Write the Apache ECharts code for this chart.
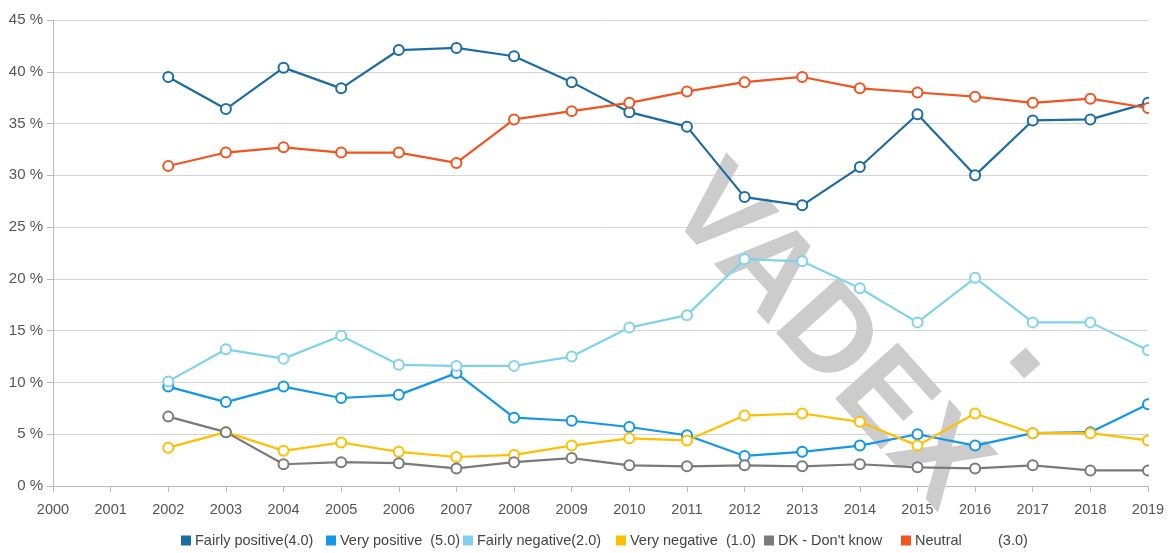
<!DOCTYPE html>
<html>
<head>
<meta charset="utf-8">
<script src="https://cdn.jsdelivr.net/npm/echarts@6/dist/echarts.min.js"></script>
<style>
html,body{margin:0;padding:0;background:#fff;}
#c{width:1172px;height:553px;}
</style>
</head>
<body>
<div id="c"></div>
<script>
var years = ['2000','2001','2002','2003','2004','2005','2006','2007','2008','2009','2010','2011','2012','2013','2014','2015','2016','2017','2018','2019'];
var yTicks = [0,5,10,15,20,25,30,35,40,45];

var fairlyPositive = [null,null,39.5,36.4,40.4,38.4,42.1,42.3,41.5,39.0,36.1,34.7,27.9,27.1,30.8,35.9,30.0,35.3,35.4,37.0];
var veryPositive   = [null,null,9.6,8.1,9.6,8.5,8.8,10.9,6.6,6.3,5.7,4.9,2.9,3.3,3.9,5.0,3.9,5.1,5.2,7.9];
var fairlyNegative = [null,null,10.1,13.2,12.3,14.5,11.7,11.6,11.6,12.5,15.3,16.5,21.9,21.7,19.1,15.8,20.1,15.8,15.8,13.1];
var veryNegative   = [null,null,3.7,5.2,3.4,4.2,3.3,2.8,3.0,3.9,4.6,4.4,6.8,7.0,6.2,3.9,7.0,5.1,5.1,4.4];
var dontKnow       = [null,null,6.7,5.2,2.1,2.3,2.2,1.7,2.3,2.7,2.0,1.9,2.0,1.9,2.1,1.8,1.7,2.0,1.5,1.5];
var neutral        = [null,null,30.9,32.2,32.7,32.2,32.2,31.2,35.4,36.2,37.0,38.1,39.0,39.5,38.4,38.0,37.6,37.0,37.4,36.5];

var seriesNames = ['Fairly positive(4.0)','Very positive  (5.0)','Fairly negative(2.0)','Very negative  (1.0)','DK - Don\'t know','Neutral         (3.0)'];
var seriesData = [fairlyPositive, veryPositive, fairlyNegative, veryNegative, dontKnow, neutral];
var colors = ['#1c6ca3','#1296e8','#80d2ec','#ffbe00','#7a7a7a','#f25420'];
var legendLeft = [181, 326, 463, 616, 764, 901];

var FONT = 'Liberation Sans, Arial, sans-serif';
var chart = echarts.init(document.getElementById('c'), null, {renderer:'canvas'});
var series = seriesNames.map(function(n,i){
  return {
    name:n, type:'line', data:seriesData[i],
    symbol:'emptyCircle', symbolSize:10, z:3,
    lineStyle:{width:2.2,color:colors[i]},
    itemStyle:{color:colors[i], borderWidth:2.2, borderColor:colors[i]},
    connectNulls:false, animation:false
  };
});
var legends = seriesNames.map(function(n,i){
  return {
    top:533, left:legendLeft[i], padding:0,
    icon:'rect', itemWidth:8, itemHeight:8, itemGap:0,
    textStyle:{fontSize:14.5,color:'#444',fontFamily:FONT},
    data:[{name:n, icon:'rect', itemStyle:{color:colors[i]}}]
  };
});
chart.setOption({
  animation:false,
  color:colors,
  textStyle:{fontFamily:FONT},
  grid:{left:53,right:24,top:20,bottom:67},
  legend:legends,
  xAxis:{
    type:'category', data:years, boundaryGap:false,
    axisLine:{lineStyle:{color:'#bbb'}},
    axisTick:{show:true,length:6,lineStyle:{color:'#bbb'}},
    axisLabel:{fontSize:14.5,color:'#555',margin:16,interval:0}
  },
  yAxis:{
    type:'value', min:0, max:45, interval:5,
    axisLine:{show:true,lineStyle:{color:'#bbb'}},
    axisTick:{show:true,length:6,lineStyle:{color:'#bbb'}},
    axisLabel:{fontSize:15,color:'#555',margin:10,formatter:function(v){return v+' %';}},
    splitLine:{lineStyle:{color:'#d4d4d4'}}
  },
  graphic:[
    {type:'text', z:1, x:826, y:338, rotation:-48*Math.PI/180,
     style:{text:'VADEX', fill:'#cccccc', font:'bold 122px Liberation Sans, Arial, sans-serif', textAlign:'center', textVerticalAlign:'middle'}},
    {type:'rect', z:1, x:1025, y:363, rotation:-48*Math.PI/180,
     shape:{x:-11,y:-11,width:22,height:22}, style:{fill:'#cccccc'}},
    {type:'rect', z:100, shape:{x:1149,y:0,width:23,height:485}, style:{fill:'#fff'}}
  ],
  series:series
});
</script>
</body>
</html>
